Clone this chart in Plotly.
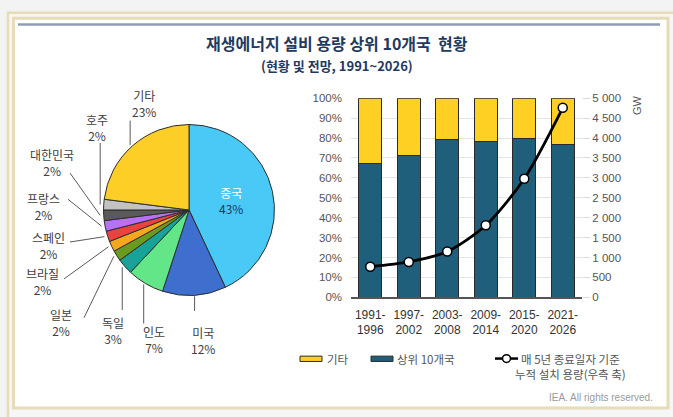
import math
import plotly.graph_objects as go

W, H = 673, 417

# pie data
countries = ["중국", "미국", "인도", "독일", "일본", "브라질", "스페인", "프랑스", "대한민국", "호주", "기타"]
shares = [43, 12, 7, 3, 2, 2, 2, 2, 2, 2, 23]
pie_colors = ["#48c9f6", "#3e6fcf", "#62e687", "#17a398", "#6b9b1e", "#f5a81d",
              "#e8433f", "#b870f4", "#5a5a5a", "#c2c2c2", "#fdcf26"]

# bar / line data
periods = ["1991-1996", "1997-2002", "2003-2008", "2009-2014", "2015-2020", "2021-2026"]
period_labels = ["1991-<br>1996", "1997-<br>2002", "2003-<br>2008", "2009-<br>2014", "2015-<br>2020", "2021-<br>2026"]
top10_pct = [67.0, 71.2, 79.3, 78.4, 79.7, 76.9]
other_pct = [100 - v for v in top10_pct]
cumulative_gw = [770, 890, 1150, 1810, 2980, 4760]
gw_ticks = [0, 500, 1000, 1500, 2000, 2500, 3000, 3500, 4000, 4500, 5000]

FONT = "Liberation Sans, Arial, Noto Sans CJK KR, sans-serif"
KFONT = "Noto Sans CJK KR, sans-serif"
NAVY = "#1f3a5f"
YELLOW = "#fdd023"
TEAL = "#1f5f7b"


def px_x(v):
    return v / W


def px_y(v):
    return 1 - v / H


def note(text, x, y, size, color="#404040", family=KFONT, xanchor="center", **kw):
    return dict(x=px_x(x), y=px_y(y), xref="paper", yref="paper", showarrow=False, text=text,
                xanchor=xanchor, yanchor="middle", font=dict(family=family, size=size, color=color), **kw)


# pie geometry (pixels)
pie_left, pie_right, pie_top, pie_bottom = 101, 277, 122, 298
cx, cy = (pie_left + pie_right) / 2, (pie_top + pie_bottom) / 2
r = (pie_right - pie_left) / 2

fig = go.Figure()

pie_text = ["<span style='color:white'>중국</span><br><span style='color:%s'>43%%</span>" % NAVY] + [""] * 10
fig.add_trace(go.Pie(
    labels=countries, values=shares, sort=False, direction="clockwise", rotation=0,
    marker=dict(colors=pie_colors, line=dict(color="#2e2e2e", width=1)),
    text=pie_text, textinfo="text", textposition=["inside"] + ["none"] * 10,
    insidetextorientation="horizontal",
    textfont=dict(family=KFONT, size=12),
    domain=dict(x=[px_x(pie_left), px_x(pie_right)], y=[px_y(pie_bottom), px_y(pie_top)]),
    showlegend=False, hoverinfo="label+percent",
))

fig.add_trace(go.Bar(
    x=periods, y=top10_pct, name="상위 10개국", marker=dict(color=TEAL, line=dict(color="#2a2a2a", width=1)),
    xaxis="x2", yaxis="y2", showlegend=False,
))
fig.add_trace(go.Bar(
    x=periods, y=other_pct, name="기타", marker=dict(color=YELLOW, line=dict(color="#2a2a2a", width=1)),
    xaxis="x2", yaxis="y2", showlegend=False,
))
fig.add_trace(go.Scatter(
    x=periods, y=cumulative_gw, mode="lines+markers", name="누적 설치 용량",
    line=dict(color="black", width=2.8, shape="spline", smoothing=0.8),
    marker=dict(size=9, color="white", line=dict(color="black", width=1.5)),
    xaxis="x2", yaxis="y3", showlegend=False,
))

# pie labels with leader lines; leader start follows slice mid-angle
label_pos = {
    "기타": (144, 100, None, 118),
    "호주": (97, 125, None, 141),
    "대한민국": (52, 161, 70, 172),
    "프랑스": (43, 206, 68, 199),
    "스페인": (48, 247, 70, 243),
    "브라질": (42, 284, 64, 281),
    "일본": (61, 326, 84, 321),
    "독일": (113, 334, None, 313),
    "인도": (154, 343, None, 327),
    "미국": (203, 344, None, 314),
}
shapes = [
    dict(type="rect", xref="paper", yref="paper", x0=px_x(8), x1=px_x(690), y0=px_y(440), y1=px_y(7),
         line=dict(color="#e6dcb8", width=2.5), fillcolor="#f6f6f6", layer="below"),
    dict(type="rect", xref="paper", yref="paper", x0=px_x(13.5), x1=px_x(668), y0=px_y(414), y1=px_y(12.5),
         line=dict(color="#e6dcb8", width=3), fillcolor="white", layer="below"),
    dict(type="line", xref="paper", yref="paper", x0=px_x(18), x1=px_x(660), y0=px_y(19), y1=px_y(19),
         line=dict(color="#8e9db5", width=2.5)),
]
annotations = []
total = sum(shares)
acc = 0
for name, val in zip(countries, shares):
    mid = (acc + val / 2) / total * 2 * math.pi
    acc += val
    if name not in label_pos:
        continue
    tx, ty, ex, ey = label_pos[name]
    sx = cx + (r + 1) * math.sin(mid)
    sy = cy - (r + 1) * math.cos(mid)
    if ex is None:
        ex = sx
    shapes.append(dict(type="line", xref="paper", yref="paper",
                       x0=px_x(sx), y0=px_y(sy), x1=px_x(ex), y1=px_y(ey),
                       line=dict(color="#5a5a5a", width=1)))
    annotations.append(note("%s<br>%d%%" % (name, val), tx, ty, 12, align="center"))

# manual legend
shapes += [
    dict(type="rect", xref="paper", yref="paper", x0=px_x(300), x1=px_x(322), y0=px_y(366), y1=px_y(360.5),
         fillcolor=YELLOW, line=dict(color="#2a2a2a", width=1)),
    dict(type="rect", xref="paper", yref="paper", x0=px_x(371), x1=px_x(393), y0=px_y(366), y1=px_y(360.5),
         fillcolor=TEAL, line=dict(color="#2a2a2a", width=1)),
    dict(type="line", xref="paper", yref="paper", x0=px_x(495), x1=px_x(518), y0=px_y(363), y1=px_y(363),
         line=dict(color="black", width=2.5)),
    dict(type="circle", xref="paper", yref="paper", x0=px_x(502.5), x1=px_x(510.5), y0=px_y(367), y1=px_y(359),
         fillcolor="white", line=dict(color="black", width=1.5)),
]
legend_texts = [
    ("기타", 325, 363, "left"),
    ("상위 10개국", 395, 363, "left"),
    ("매 5년 종료일자 기준", 519, 363, "left"),
    ("누적 설치 용량(우측 축)", 628, 379, "right"),
]
for t, x, y, anchor in legend_texts:
    annotations.append(note(t, x, y, 11.5, color="#555555", xanchor=anchor))

annotations += [
    note("<b>재생에너지 설비 용량 상위 10개국  현황</b>", W / 2, 38, 16, color=NAVY),
    note("<b>(현황 및 전망, 1991~2026)</b>", W / 2, 61, 13, color=NAVY),
    note("GW", 637, 102, 11, color="#555555", family=FONT, textangle=-90),
    note("IEA. All rights reserved.", 655, 403, 10, color="#9a9a9a", family=FONT, xanchor="right"),
]

fig.update_layout(
    width=W, height=H,
    margin=dict(l=0, r=0, t=0, b=0),
    paper_bgcolor="#f3f3f3",
    plot_bgcolor="white",
    barmode="stack", bargap=0.4,
    font=dict(family=FONT, color="#444444"),
    shapes=shapes, annotations=annotations,
    xaxis2=dict(domain=[px_x(351), px_x(582)], anchor="y2", tickvals=periods, ticktext=period_labels,
                showline=True, linecolor="#555555", linewidth=1.5, ticks="", ticklabelstandoff=5,
                tickfont=dict(size=12, color="#333333"), fixedrange=True),
    yaxis2=dict(domain=[px_y(300), px_y(95)], anchor="x2", range=[0, 100], dtick=10, ticksuffix="%",
                showgrid=True, gridcolor="#e3e3e3", zeroline=False, ticklabelstandoff=8,
                tickfont=dict(size=11.5, color="#555555")),
    yaxis3=dict(overlaying="y2", anchor="x2", side="right", range=[0, 5000], tickvals=gw_ticks,
                ticktext=[f"{v:,}".replace(",", " ") for v in gw_ticks], showgrid=False, zeroline=False,
                ticks="outside", ticklen=7, tickcolor="#d9d9d9", tickfont=dict(size=11.5, color="#555555")),
)

fig.write_html("out.html", post_script="document.body.style.margin = '0';",
               config={"displayModeBar": False})
